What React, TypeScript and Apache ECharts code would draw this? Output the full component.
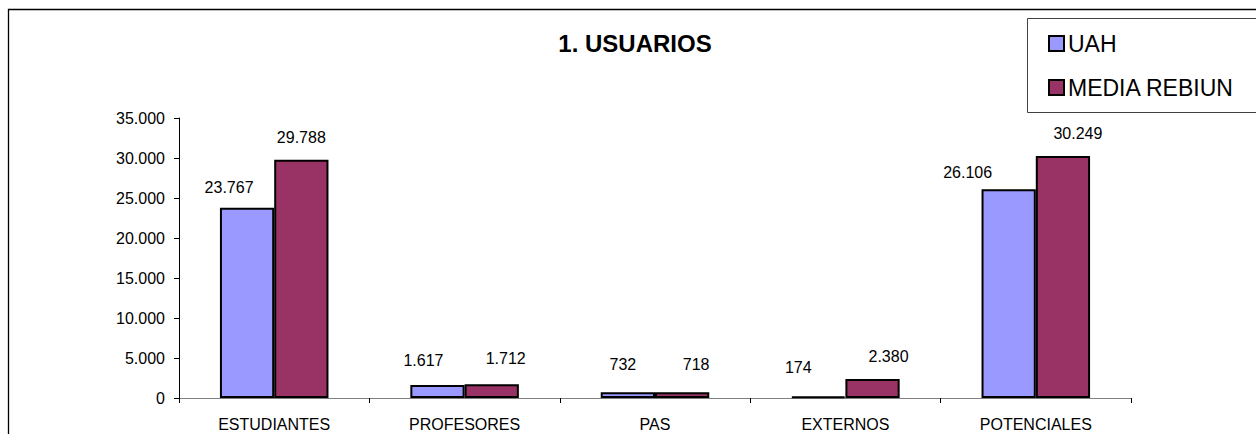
import React, { useEffect, useRef } from "react";
import * as echarts from "echarts";

const categories = ["ESTUDIANTES", "PROFESORES", "PAS", "EXTERNOS", "POTENCIALES"];
const uahValues = [23767, 1617, 732, 174, 26106];
const rebiunValues = [29788, 1712, 718, 2380, 30249];
const seriesNames = ["UAH", "MEDIA REBIUN"];
const titleText = "1. USUARIOS";

// label nudges (style only, Excel-like label placement)
const uahLabelNudge = [[-18, 3], [-14, -2], [-5, -5], [-20, -6], [-41, 6]];
const rebiunLabelNudge = [[0, 1], [14, -3], [14, -5], [16, 1], [15, 0]];

const fmt = (v: number) => {
  const s = String(Math.round(v));
  return s.replace(/\B(?=(\d{3})+(?!\d))/g, ".");
};

const FONT = "'Liberation Sans', Arial, sans-serif";

export default function App() {
  const ref = useRef<HTMLDivElement>(null);
  useEffect(() => {
    if (!ref.current) return;
    const chart = echarts.init(ref.current, undefined, { renderer: "svg" });
    const labelCfg = {
      show: true,
      position: "top" as const,
      distance: 15,
      color: "#000",
      fontSize: 16,
      fontFamily: FONT,
      formatter: (p: any) => fmt(p.value),
    };
    const withNudge = (vals: number[], nudge: number[][]) =>
      vals.map((v, i) => ({ value: v, label: { offset: nudge[i] } }));
    chart.setOption({
      animation: false,
      backgroundColor: "#fff",
      textStyle: { fontFamily: FONT },
      title: {
        text: titleText,
        left: 630,
        top: 26,
        textAlign: "center",
        textStyle: { fontSize: 24, fontWeight: "bold", color: "#000", fontFamily: FONT },
      },
      legend: {
        orient: "vertical",
        left: 1043,
        top: 27,
        itemWidth: 15,
        itemHeight: 15,
        itemGap: 21,
        icon: "rect",
        textStyle: { fontSize: 23, color: "#000", fontFamily: FONT, padding: [0, 0, 0, -1] },
        data: seriesNames,
      },
      graphic: [
        {
          type: "rect",
          z: -10,
          shape: { x: 8.5, y: 9.5, width: 1400, height: 600 },
          style: { fill: "none", stroke: "#000", lineWidth: 1.3 },
        },
        {
          type: "rect",
          z: -5,
          shape: { x: 1027.5, y: 18.5, width: 300, height: 94 },
          style: { fill: "#fff", stroke: "#404040", lineWidth: 1 },
        },
      ],
      grid: { left: 179, right: 125, top: 118, bottom: 36, containLabel: false },
      xAxis: {
        type: "category",
        data: categories,
        axisLine: { show: true, lineStyle: { color: "#808080", width: 1 } },
        axisTick: { show: true, length: 5, inside: false, lineStyle: { color: "#000" } },
        axisLabel: { color: "#000", fontSize: 16, margin: 18, fontFamily: FONT },
      },
      yAxis: {
        type: "value",
        min: 0,
        max: 35000,
        interval: 5000,
        axisLine: { show: true, lineStyle: { color: "#000", width: 1 } },
        axisTick: { show: true, length: 5, lineStyle: { color: "#000" } },
        splitLine: { show: false },
        axisLabel: { color: "#000", fontSize: 16, margin: 14, fontFamily: FONT, formatter: (v: number) => fmt(v) },
      },
      series: [
        {
          name: seriesNames[0],
          type: "bar",
          data: withNudge(uahValues, uahLabelNudge),
          barGap: "0%",
          barCategoryGap: "43%",
          itemStyle: { color: "#9999FF", borderColor: "#000", borderWidth: 2 },
          label: labelCfg,
        },
        {
          name: seriesNames[1],
          type: "bar",
          data: withNudge(rebiunValues, rebiunLabelNudge),
          barGap: "0%",
          barCategoryGap: "43%",
          itemStyle: { color: "#993366", borderColor: "#000", borderWidth: 2 },
          label: labelCfg,
        },
      ],
    });
    return () => chart.dispose();
  }, []);
  return (
    <div
      ref={ref}
      style={{ position: "absolute", left: 0, top: 0, width: 1256, height: 434 }}
    />
  );
}
